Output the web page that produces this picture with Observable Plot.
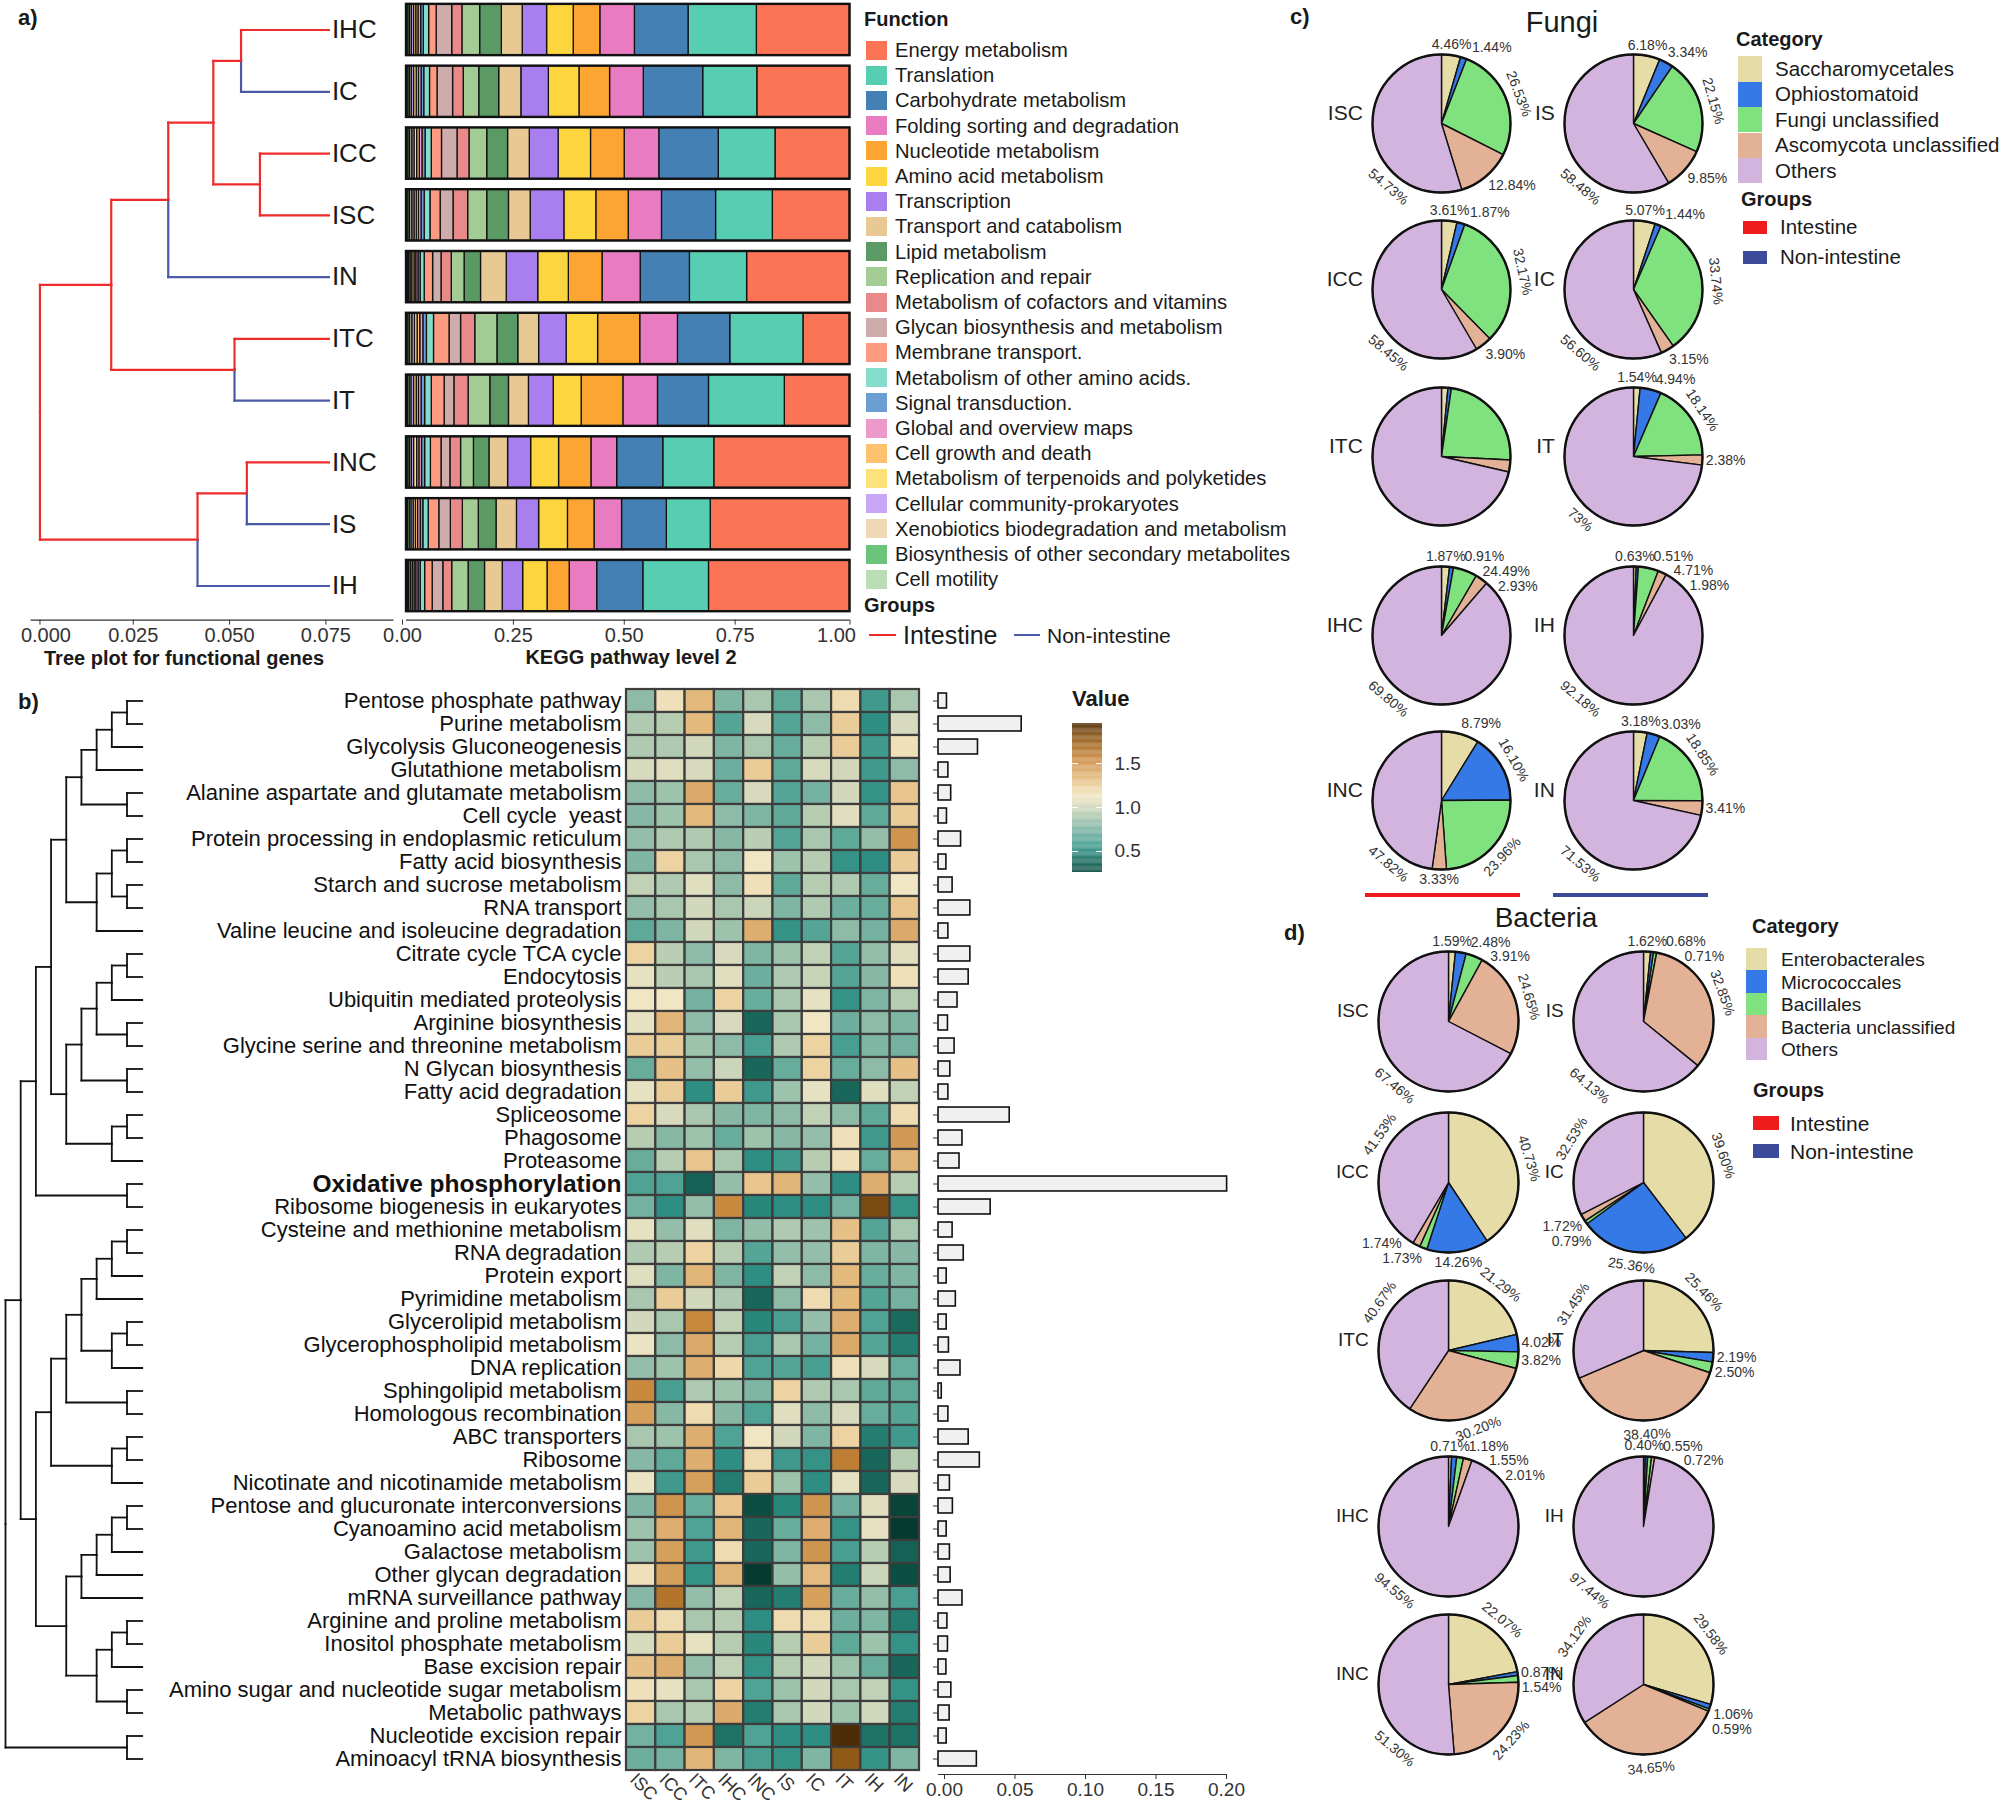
<!DOCTYPE html>
<html><head><meta charset="utf-8">
<script src="https://cdn.jsdelivr.net/npm/d3@7"></script>
<script src="https://cdn.jsdelivr.net/npm/@observablehq/plot@0.6"></script>
<style>
html,body{margin:0;padding:0;background:#fff;}
#root{position:relative;width:2008px;height:1808px;overflow:hidden;background:#fff;font-family:"Liberation Sans",Arial,Helvetica,sans-serif;color:#1a1a1a;}
</style></head><body><div id="root"></div>
<script>
// ================= DATA =================
// ---- panel a ----
const geneSamples = ["IHC","IC","ICC","ISC","IN","ITC","IT","INC","IS","IH"];
const intestineSamples = ["IHC","ICC","ISC","ITC","INC"];
const groupNames = ["Intestine","Non-intestine"];
const geneTree = [0, [0.0185, [0.0333, [0.045, [0.0522, "IHC", "IC"], [0.0571, "ICC", "ISC"]], "IN"], [0.0505, "ITC", "IT"]], [0.0409, [0.0537, "INC", "IS"], "IH"]];
const treeLeafHeight = 0.075;
const treeTicks = [0, 0.025, 0.05, 0.075];
const keggTicks = [0, 0.25, 0.5, 0.75, 1];
const keggFunctions = ["Energy metabolism","Translation","Carbohydrate metabolism","Folding sorting and degradation","Nucleotide metabolism","Amino acid metabolism","Transcription","Transport and catabolism","Lipid metabolism","Replication and repair","Metabolism of cofactors and vitamins","Glycan biosynthesis and metabolism","Membrane transport.","Metabolism of other amino acids.","Signal transduction.","Global and overview maps","Cell growth and death","Metabolism of terpenoids and polyketides","Cellular community-prokaryotes","Xenobiotics biodegradation and metabolism","Biosynthesis of other secondary metabolites","Cell motility"];
const keggColors = ["#FB7456","#57CDB2","#4580B5","#E97BC0","#FCA533","#FDD53F","#A97EEE","#E9C993","#5B9A65","#A3CB94","#E98A8A","#CFACAC","#FD9B82","#85DCCB","#6B9FD3","#ED9ACB","#FDC170","#FDE17A","#C6A6F5","#EFD9B5","#6CC47A","#BBDDB6"];
const keggIHC = [.210,.154,.121,.078,.060,.060,.055,.047,.049,.040,.023,.035,.017,.012,.006,.006,.005,.005,.005,.004,.004,.004];
const keggIC  = [.209,.122,.134,.076,.069,.069,.062,.050,.045,.035,.024,.035,.017,.013,.006,.006,.005,.006,.005,.004,.004,.004];
const keggICC = [.168,.128,.134,.078,.076,.073,.065,.049,.047,.040,.027,.035,.023,.014,.007,.006,.006,.006,.005,.005,.004,.004];
const keggISC = [.174,.128,.122,.075,.073,.072,.076,.049,.049,.043,.033,.029,.023,.013,.007,.006,.005,.005,.005,.005,.004,.004];
const keggIN  = [.232,.129,.111,.086,.076,.069,.071,.058,.037,.029,.023,.019,.019,.009,.005,.005,.004,.005,.004,.003,.003,.003];
const keggITC = [.105,.165,.118,.085,.095,.071,.062,.047,.047,.050,.032,.026,.035,.016,.008,.007,.006,.006,.006,.005,.004,.004];
const keggIT  = [.147,.171,.115,.078,.094,.063,.056,.045,.042,.049,.032,.022,.029,.015,.008,.006,.005,.006,.006,.004,.004,.003];
const keggINC = [.306,.115,.104,.058,.073,.063,.052,.042,.035,.029,.024,.020,.024,.013,.007,.006,.005,.007,.005,.004,.004,.004];
const keggIS  = [.314,.099,.101,.062,.060,.065,.050,.046,.040,.036,.027,.026,.024,.012,.006,.006,.005,.005,.005,.004,.004,.003];
const keggIH  = [.318,.148,.104,.062,.050,.055,.046,.040,.037,.037,.020,.024,.017,.010,.005,.005,.004,.004,.004,.004,.003,.003];

// ---- panel b ----
const heatSamples = ["ISC","ICC","ITC","IHC","INC","IS","IC","IT","IH","IN"];
const pathways = ["Pentose phosphate pathway","Purine metabolism","Glycolysis Gluconeogenesis","Glutathione metabolism","Alanine aspartate and glutamate metabolism","Cell cycle  yeast","Protein processing in endoplasmic reticulum","Fatty acid biosynthesis","Starch and sucrose metabolism","RNA transport","Valine leucine and isoleucine degradation","Citrate cycle TCA cycle","Endocytosis","Ubiquitin mediated proteolysis","Arginine biosynthesis","Glycine serine and threonine metabolism","N Glycan biosynthesis","Fatty acid degradation","Spliceosome","Phagosome","Proteasome","Oxidative phosphorylation","Ribosome biogenesis in eukaryotes","Cysteine and methionine metabolism","RNA degradation","Protein export","Pyrimidine metabolism","Glycerolipid metabolism","Glycerophospholipid metabolism","DNA replication","Sphingolipid metabolism","Homologous recombination","ABC transporters","Ribosome","Nicotinate and nicotinamide metabolism","Pentose and glucuronate interconversions","Cyanoamino acid metabolism","Galactose metabolism","Other glycan degradation","mRNA surveillance pathway","Arginine and proline metabolism","Inositol phosphate metabolism","Base excision repair","Amino sugar and nucleotide sugar metabolism","Metabolic pathways","Nucleotide excision repair","Aminoacyl tRNA biosynthesis"];
const boldPathway = "Oxidative phosphorylation";
const hmISC = [.80,.90,.90,1.02,.80,.78,.82,.75,.95,.82, .65,1.22,1.08,1.12,1.08,1.25,.68,1.08,1.22,.92, .68,.60,.72,1.08,.90,1.05,.88,1.00,1.10,.82, 1.55,1.45,.88,.78,1.10,.75,.85,.85,1.15,.78, 1.25,1.02,1.30,1.15,1.22,.72,.70];
const hmICC = [1.15,.92,.90,1.05,.85,.85,.90,1.22,.90,.88, .75,.93,.93,1.12,1.35,1.25,1.30,1.25,1.02,.78, .92,.60,.50,.82,.92,.75,1.25,.88,.80,.85, .58,.78,.85,.65,.55,1.50,1.38,1.45,1.45,1.65, 1.18,1.25,1.38,1.08,.88,.60,.72];
const hmITC = [1.33,1.33,1.00,1.02,1.40,1.33,.90,.88,1.05,1.00, 1.00,.80,.88,.72,.80,.85,.82,.50,.88,.85, 1.28,.35,.82,1.05,1.22,1.35,1.00,1.55,1.40,1.38, .90,1.18,1.38,1.38,1.45,.68,.60,.55,.52,.82, .88,1.08,.82,.88,.92,1.48,1.35];
const hmIHC = [.75,.62,.75,.70,.68,.80,.78,.80,.80,.88, .85,1.02,1.05,1.22,1.02,.80,.98,1.25,.78,.68, .88,.82,1.55,.75,.92,.75,.90,.95,.92,1.20, .85,.78,.60,.50,.45,1.28,1.35,1.18,1.35,.95, .92,.92,.95,1.22,1.40,.42,.75];
const hmINC = [.88,1.02,.88,1.25,1.02,.75,.93,1.12,1.15,.98, 1.38,.75,.70,.68,.38,.58,.38,.55,.75,.85, .50,1.28,.48,.82,.62,.50,.38,.48,.58,.60, .75,.60,1.12,1.18,1.25,.25,.38,.38,.15,.38, .50,.48,.52,.60,.45,.60,.58];
const hmIS  = [.65,.62,.68,.65,.62,.65,.62,.85,.65,.75, .52,.85,.90,.88,.88,.90,.68,.85,.80,.78, .55,1.35,.50,.90,.82,.95,.80,.58,.88,.62, 1.22,1.05,1.00,.55,.85,.48,.68,.75,.82,.45, 1.18,.92,.92,.85,.88,.50,.52];
const hmIC  = [.88,.80,.92,1.02,.72,.92,.88,.92,.92,.90, .62,.95,.97,1.08,1.12,1.22,1.22,1.08,.95,.82, .92,.82,.50,.85,.82,.80,1.18,.82,.72,.58, .90,.80,.75,.52,.50,1.50,1.38,1.50,1.32,1.45, 1.18,1.25,1.00,1.00,1.00,.50,.75];
const hmIT  = [1.18,1.25,1.25,1.00,1.00,1.05,.65,.52,.90,.70, .80,.62,.62,.52,.70,.58,.68,.38,.80,1.15, 1.15,.50,.72,1.30,1.25,1.33,1.33,1.38,1.40,1.15, .88,1.02,1.22,1.60,1.08,.70,.52,.58,.45,.68, .70,.65,.85,.88,.85,1.95,1.78];
const hmIH  = [.55,.50,.55,.55,.52,.65,.82,.50,.68,.68, .72,.82,.78,.75,.80,.75,.80,1.05,.65,.55, .68,1.38,1.85,.62,.75,.68,.62,.60,.62,1.02, .65,.68,.45,.38,.38,1.05,1.08,.92,.98,.82, .75,.85,.68,.95,1.00,.42,.52];
const hmIN  = [.88,1.02,1.15,.80,1.28,1.25,1.50,1.25,1.12,1.28, 1.40,1.05,1.15,.92,.75,.72,1.30,.95,1.18,1.48, 1.35,.92,.52,.88,.78,.75,.72,.40,.45,.68, .65,.62,.55,.92,1.02,.20,.15,.35,.25,.58, .45,.52,.38,.52,.45,.42,.75];
const pathwayShare = [0.006,0.059,0.028,0.007,0.009,0.006,0.016,0.0056,0.010,0.0226, 0.007,0.0226,0.0214,0.0135,0.0067,0.0114,0.0084,0.007,0.0505,0.017, 0.0149,0.2047,0.037,0.010,0.0179,0.0058,0.0123,0.0058,0.0074,0.0156, 0.0023,0.007,0.0214,0.0293,0.0081,0.0102,0.0058,0.0081,0.0086,0.017, 0.0063,0.0067,0.0056,0.0091,0.0079,0.0058,0.0272];
const shareTicks = [0, 0.05, 0.10, 0.15, 0.20];
const valueTicks = [0.5, 1.0, 1.5];
// row dendrogram: [height, child, child], leaves are row indices
const pathTree = [9,
  [8,
    [7,
      [6,
        [5, [4, [3, [2, [1, 0, 1], 2], 3], [1, 4, 5]], [3, [2, [1, 6, 7], [1, 8, 9]], 10]],
        [5, [4, [3, [2, [1, 11, 12], 13], [1, 14, 15]], [1, 16, 17]], [2, [1, 18, 19], 20]]],
      [1, 21, 22]],
    [7,
      [6, [5, [4, [3, [2, [1, 23, 24], 25], 26], [2, [1, 27, 28], 29]], [1, 30, 31]], [2, [1, 32, 33], 34]],
      [5, [4, [3, [2, [1, 35, 36], 37], 38], 39], [3, [2, [1, 40, 41], 42], [1, 43, 44]]]]],
  [1, 45, 46]];
const heatStops = [0.15, 0.4, 0.5, 0.6, 0.7, 0.8, 0.9, 1.0, 1.12, 1.22, 1.33, 1.42, 1.55, 1.7, 1.85, 1.96];
const heatStopColors = ["#053a2f","#1a6b5e","#2e8e84","#4fa394","#6eae9e","#8dbba8","#afcab0","#d2d8bb","#f0e6c4","#edd3a2","#e3b97c","#d9a665","#c98a40","#a86a20","#7a4a10","#4a2a05"];

// ---- panel c: fungi ----
const fungiCategories = ["Saccharomycetales","Ophiostomatoid","Fungi unclassified","Ascomycota unclassified","Others"];
const fungiISC = [4.46, 1.44, 26.53, 12.84, 54.73];
const fungiIS  = [6.18, 3.34, 22.15, 9.85, 58.48];
const fungiICC = [3.61, 1.87, 32.17, 3.90, 58.45];
const fungiIC  = [5.07, 1.44, 33.74, 3.15, 56.60];
const fungiITC = [1.5, 0.8, 23.5, 2.8, 71.4];
const fungiIT  = [1.54, 4.94, 18.14, 2.38, 73.00];
const fungiIHC = [1.87, 0.91, 5.6, 2.93, 88.69];
const fungiIH  = [0.63, 0.51, 4.71, 1.98, 92.18];
const fungiINC = [8.79, 16.10, 23.96, 3.33, 47.82];
const fungiIN  = [3.18, 3.03, 18.85, 3.41, 71.53];
const fungiISCText = ["4.46%","1.44%","26.53%","12.84%","54.73%"];
const fungiISText  = ["6.18%","3.34%","22.15%","9.85%","58.48%"];
const fungiICCText = ["3.61%","1.87%","32.17%","3.90%","58.45%"];
const fungiICText  = ["5.07%","1.44%","33.74%","3.15%","56.60%"];
const fungiITCText = ["","","","",""];
const fungiITText  = ["1.54%","4.94%","18.14%","2.38%","73%"];
const fungiIHCText = ["1.87%","0.91%","24.49%","2.93%","69.80%"];
const fungiIHText  = ["0.63%","0.51%","4.71%","1.98%","92.18%"];
const fungiINCText = ["8.79%","16.10%","23.96%","3.33%","47.82%"];
const fungiINText  = ["3.18%","3.03%","18.85%","3.41%","71.53%"];

// ---- panel d: bacteria ----
const bactCategories = ["Enterobacterales","Micrococcales","Bacillales","Bacteria unclassified","Others"];
const bactISC = [1.59, 2.48, 3.91, 24.65, 67.46];
const bactIS  = [1.62, 0.68, 0.71, 32.85, 64.13];
const bactICC = [40.73, 14.26, 1.73, 1.74, 41.53];
const bactIC  = [39.60, 25.36, 0.79, 1.72, 32.53];
const bactITC = [21.29, 4.02, 3.82, 30.20, 40.67];
const bactIT  = [25.46, 2.19, 2.50, 38.40, 31.45];
const bactIHC = [0.71, 1.18, 1.55, 2.01, 94.55];
const bactIH  = [0.40, 0.55, 0.89, 0.72, 97.44];
const bactINC = [22.07, 0.87, 1.54, 24.23, 51.30];
const bactIN  = [29.58, 1.06, 0.59, 34.65, 34.12];
const bactISCText = ["1.59%","2.48%","3.91%","24.65%","67.46%"];
const bactISText  = ["1.62%","0.68%","0.71%","32.85%","64.13%"];
const bactICCText = ["40.73%","14.26%","1.73%","1.74%","41.53%"];
const bactICText  = ["39.60%","25.36%","0.79%","1.72%","32.53%"];
const bactITCText = ["21.29%","4.02%","3.82%","30.20%","40.67%"];
const bactITText  = ["25.46%","2.19%","2.50%","38.40%","31.45%"];
const bactIHCText = ["0.71%","1.18%","1.55%","2.01%","94.55%"];
const bactIHText  = ["0.40%","0.55%","","0.72%","97.44%"];
const bactINCText = ["22.07%","0.87%","1.54%","24.23%","51.30%"];
const bactINText  = ["29.58%","1.06%","0.59%","34.65%","34.12%"];
const pieColors = ["#E6DCA8","#3479E6","#80E27F","#E3B195","#D3B4DF"];

// ================= STYLE / HELPERS =================
const RED = "#EE2B2B", BLUE = "#4A59A8";
const LEG_RED = "#EE1C1C", LEG_BLUE = "#3B4B9A";
const FONT = "'Liberation Sans', Arial, Helvetica, sans-serif";
const plotStyle = {background: "transparent", overflow: "visible", fontFamily: FONT, color: "#1a1a1a", maxWidth: "none"};
const root = document.getElementById("root");
function place(el, left, top) {
  el.style.position = "absolute"; el.style.left = left + "px"; el.style.top = top + "px";
  root.appendChild(el); return el;
}
function label(txt, x, y, o = {}) {
  const d = document.createElement("div");
  d.textContent = txt;
  const tx = o.anchor === "middle" ? "-50%" : o.anchor === "end" ? "-100%" : "0";
  Object.assign(d.style, {position: "absolute", left: x + "px", top: y + "px", fontSize: (o.size || 20) + "px",
    fontWeight: o.weight || "normal", color: o.color || "#1a1a1a", whiteSpace: "nowrap", lineHeight: "1",
    transform: `translate(${tx},-50%)`});
  root.appendChild(d);
}
function swatch(x, y, w, h, color) {
  const d = document.createElement("div");
  Object.assign(d.style, {position: "absolute", left: x + "px", top: y + "px", width: w + "px", height: h + "px", background: color});
  root.appendChild(d);
}
function treeSegments(tree, yOf, leafH, groupOf) {
  const segs = [];
  function walk(n) {
    if (!Array.isArray(n)) return {h: leafH, y: yOf(n), leaf: n};
    const [h, ...kids] = n;
    const ks = kids.map(walk);
    const y = d3.mean(ks, k => k.y);
    for (const k of ks) {
      const g = groupOf ? groupOf(k) : "all";
      segs.push({x1: h, y1: y, x2: h, y2: k.y, g});
      segs.push({x1: h, y1: k.y, x2: k.h, y2: k.y, g});
    }
    return {h, y, leaf: null};
  }
  walk(tree);
  return segs;
}

// ================= PANEL a =================
label("a)", 18, 18, {size: 22, weight: "bold"});
{
  const segs = treeSegments(geneTree, n => geneSamples.indexOf(n), treeLeafHeight,
    k => k.leaf == null ? "Intestine" : (intestineSamples.includes(k.leaf) ? "Intestine" : "Non-intestine"));
  const yAxisLine = 9 + (619.6 - 585.5) / ((585.5 - 29.5) / 9);
  const axisOpts = {tickFormat: ".3f", fontSize: 20, tickSize: 5, tickPadding: 3, label: null, color: "#333"};
  const p = Plot.plot({
    width: 400, height: 680, marginLeft: 30.6, marginRight: 6.5, marginTop: 0, marginBottom: 60.4,
    x: {domain: [-0.0023, 0.0919], range: [30.6, 393.5]},
    y: {domain: [0, 9], range: [29.5, 585.5], axis: null},
    color: {domain: groupNames, range: [RED, BLUE]},
    style: plotStyle,
    marks: [
      Plot.link(segs, {x1: "x1", y1: "y1", x2: "x2", y2: "y2", stroke: "g", strokeWidth: 2.2, strokeLinecap: "square"}),
      Plot.text(geneSamples, {x: () => treeLeafHeight, y: (d, i) => i, text: d => d, textAnchor: "start", dx: 3, fontSize: 26, fill: "#1a1a1a"}),
      Plot.ruleY([yAxisLine], {x1: -0.0023, x2: 0.0919, stroke: "#333", strokeWidth: 1.2}),
      Plot.axisX({...axisOpts, ticks: treeTicks.slice(0, 1), tickSize: 0, tickPadding: 8, dx: 6}),
      Plot.axisX({...axisOpts, ticks: treeTicks.slice(0, 1), tickFormat: () => ""}),
      Plot.axisX({...axisOpts, ticks: treeTicks.slice(1), dx: -3})
    ]
  });
  place(p, 0, 0);
}
{
  const keggBySample = {IHC: keggIHC, IC: keggIC, ICC: keggICC, ISC: keggISC, IN: keggIN, ITC: keggITC, IT: keggIT, INC: keggINC, IS: keggIS, IH: keggIH};
  const keggData = geneSamples.flatMap(s => keggFunctions.map((f, j) => ({sample: s, func: f, value: keggBySample[s][j]})));
  const axisOpts = {tickFormat: ".2f", fontSize: 20, tickSize: 5, tickPadding: 3, label: null, color: "#333"};
  const p = Plot.plot({
    width: 460, height: 680, marginLeft: 6, marginRight: 10.5, marginTop: 0, marginBottom: 60.4,
    x: {domain: [0, 1], range: [6, 449.5]},
    y: {domain: geneSamples, range: [-6.64, 621.7], padding: 0.17, round: false, axis: null},
    color: {domain: keggFunctions, range: keggColors},
    style: plotStyle,
    marks: [
      Plot.barX(keggData, Plot.stackX({x: "value", y: "sample", fill: "func", order: keggFunctions.slice().reverse(), offset: "normalize", stroke: "#111", strokeWidth: 1.3})),
      Plot.barX(geneSamples, {x1: 0, x2: 1, y: d => d, fill: "none", stroke: "#111", strokeWidth: 2.4}),
      Plot.ruleY(["IH"], {x1: 0, x2: 1, dy: 619.6 - 585.5, stroke: "#333", strokeWidth: 1.2}),
      Plot.axisX({...axisOpts, ticks: keggTicks.slice(0, -1), dx: -4}),
      Plot.axisX({...axisOpts, ticks: keggTicks.slice(-1), tickSize: 0, tickPadding: 8, textAnchor: "end", dx: 6}),
      Plot.axisX({...axisOpts, ticks: keggTicks.slice(-1), tickFormat: () => ""})
    ]
  });
  place(p, 400, 0);
}
label("Tree plot for functional genes", 184, 658, {size: 20, weight: "bold", anchor: "middle"});
label("KEGG pathway level 2", 631, 657, {size: 20, weight: "bold", anchor: "middle"});
label("Function", 864, 19, {size: 20, weight: "bold"});
keggFunctions.forEach((f, i) => {
  const y = 50 + 25.2 * i;
  swatch(866, y - 9.5, 21, 19, keggColors[i]);
  label(f, 895, y, {size: 20.2});
});
label("Groups", 864, 605, {size: 20, weight: "bold"});
swatch(869, 633.5, 27, 2.6, RED);
label("Intestine", 903, 635, {size: 25});
swatch(1014, 633.5, 26, 2.6, BLUE);
label("Non-intestine", 1047, 635, {size: 21});

// ================= PANEL b =================
label("b)", 18, 702, {size: 22, weight: "bold"});
{
  const segs = treeSegments(pathTree, i => i, 0, null);
  const p = Plot.plot({
    width: 150, height: 1128, margin: 0,
    x: {domain: [0, 9], range: [141.7, 5], axis: null},
    y: {domain: [0, 46], range: [20.5, 1078.5], axis: null},
    style: plotStyle,
    marks: [Plot.link(segs, {x1: "x1", y1: "y1", x2: "x2", y2: "y2", stroke: "#111", strokeWidth: 1.8, strokeLinecap: "square"})]
  });
  place(p, 0, 680);
}
const heatColor = {type: "linear", domain: heatStops, range: heatStopColors, clamp: true, interpolate: "rgb"};
{
  const heatCols = [hmISC, hmICC, hmITC, hmIHC, hmINC, hmIS, hmIC, hmIT, hmIH, hmIN];
  const heatData = pathways.flatMap((pth, r) => heatSamples.map((s, c) => ({path: pth, sample: s, value: heatCols[c][r]})));
  const p = Plot.plot({
    width: 800, height: 1128, marginLeft: 486, marginRight: 21, marginTop: 9, marginBottom: 38,
    x: {domain: heatSamples, range: [486, 779], padding: 0, round: false},
    y: {domain: pathways, range: [9, 1090], padding: 0, round: false, axis: null},
    color: heatColor,
    style: plotStyle,
    marks: [
      Plot.cell(heatData, {x: "sample", y: "path", fill: "value", stroke: "#3d3d3d", strokeWidth: 2.2, inset: 0}),
      Plot.text(pathways.filter(d => d !== boldPathway), {y: d => d, text: d => d, frameAnchor: "left", textAnchor: "end", dx: -5, fontSize: 22, fill: "#111"}),
      Plot.text([boldPathway], {y: d => d, text: d => d, frameAnchor: "left", textAnchor: "end", dx: -5, fontSize: 24.5, fontWeight: "bold", fill: "#111"}),
      Plot.axisX({anchor: "bottom", tickRotate: 45, tickSize: 0, tickPadding: 6, dx: -8, fontSize: 18, label: null, color: "#333"})
    ]
  });
  place(p, 140, 680);
}
{
  const barData = pathways.map((pth, i) => ({path: pth, value: pathwayShare[i]}));
  const p = Plot.plot({
    width: 320, height: 1128, marginLeft: 18, marginRight: 20, marginTop: 9, marginBottom: 34,
    x: {domain: [0, 0.2], range: [18, 300]},
    y: {domain: pathways, range: [9, 1090], paddingInner: 0.35, paddingOuter: 0.175, round: false},
    style: plotStyle,
    marks: [
      Plot.barX(barData, {x: "value", y: "path", fill: "#F0F0F0", stroke: "#111", strokeWidth: 1.6}),
      Plot.axisY({anchor: "left", tickSize: 5, tickFormat: () => "", label: null, color: "#333"}),
      Plot.ruleY([pathways[pathways.length - 1]], {x1: 0, x2: 0.205, dy: 1094 - 1078.5, stroke: "#333", strokeWidth: 1.2}),
      Plot.axisX({ticks: shareTicks, tickFormat: ".2f", fontSize: 19, tickSize: 5, tickPadding: 3, dx: 6, label: null, color: "#333"})
    ]
  });
  place(p, 920, 680);
}
label("Value", 1072, 699, {size: 22, weight: "bold"});
{
  const st = 0.01;
  const steps = d3.range(0.26, 1.955, st);
  const p = Plot.plot({
    width: 100, height: 170, marginLeft: 12, marginRight: 58, marginTop: 8, marginBottom: 13,
    x: {domain: [0, 1], range: [12, 42], axis: null},
    y: {domain: [0.26, 1.955], range: [157, 8]},
    color: heatColor,
    style: plotStyle,
    marks: [
      Plot.rect(steps, {x1: 0, x2: 1, y1: d => d, y2: d => Math.min(1.955, d + st * 1.05), fill: d => d}),
      Plot.ruleY(valueTicks, {x1: 0, x2: 0.2, stroke: "white", strokeWidth: 1}),
      Plot.ruleY(valueTicks, {x1: 0.8, x2: 1, stroke: "white", strokeWidth: 1}),
      Plot.axisY({anchor: "right", ticks: valueTicks, tickFormat: ".1f", tickSize: 0, tickPadding: 12, fontSize: 19, label: null, color: "#333"})
    ]
  });
  place(p, 1060, 715);
}

// ================= PIES =================
function pieLabels(slices, texts, u, fs) {
  const out = [], boxes = [];
  const lw = t => t.length * 0.52 * fs / u, lh = fs / u;
  const last = slices.length - 1;
  // large slices: label along the rim, rotated with the tangent
  for (const s of slices) {
    const t = texts[s.i];
    if (!t || s.frac < 0.15) continue;
    let m = (s.a0 + s.a1) / 2;
    if (s.i === last && m >= 180 && m < 280 && s.a0 <= 220 && s.a1 >= 220) m = 220;  // keep clear of the sample name
    else if (m >= 280 && m < 300) m = 305;
    const rad = m * Math.PI / 180;
    let rot = m;
    if (rot > 90 && rot < 270) rot -= 180; else if (rot >= 270) rot -= 360;
    const x = 1.2 * Math.sin(rad), y = 1.2 * Math.cos(rad);
    out.push({x, y, t, rot, anchor: "middle"});
    const r = rot * Math.PI / 180, L = lw(t);
    const hw = 0.4 * (L * Math.abs(Math.cos(r)) + lh * Math.abs(Math.sin(r)));
    const hh = 0.4 * (L * Math.abs(Math.sin(r)) + lh * Math.abs(Math.cos(r)));
    boxes.push({x0: x - hw, x1: x + hw, y0: y - hh, y1: y + hh});
  }
  // small slices: horizontal labels, nudged to avoid overlaps
  for (const s of slices) {
    const t = texts[s.i];
    if (!t || s.frac >= 0.15) continue;
    let m = (s.a0 + s.a1) / 2;
    if (m > 235 && m < 295) m = m < 265 ? 225 : 305;
    const rad = m * Math.PI / 180, sx = Math.sin(rad), cy = Math.cos(rad);
    let anchor = sx > 0.25 ? "start" : sx < -0.25 ? "end" : "middle";
    const w = lw(t), h = lh;
    const off = cy > 0.3 ? h / 2 : cy < -0.3 ? -h / 2 : 0;
    let px = 1.05 * sx, py = 1.05 * cy + off;
    const mk = () => { const x0 = anchor === "start" ? px : anchor === "end" ? px - w : px - w / 2; return {x0, x1: x0 + w, y0: py - h / 2, y1: py + h / 2}; };
    const clearCircle = () => {
      const b = mk();
      const ynear = (b.y0 <= 0 && b.y1 >= 0) ? 0 : Math.min(Math.abs(b.y0), Math.abs(b.y1));
      const xnear = (b.x0 <= 0 && b.x1 >= 0) ? 0 : Math.min(Math.abs(b.x0), Math.abs(b.x1));
      if (xnear * xnear + ynear * ynear >= 1) return;
      if (anchor === "start") px += Math.sqrt(1 - ynear * ynear) + 0.03 - b.x0;
      else if (anchor === "end") px += -Math.sqrt(1 - ynear * ynear) - 0.03 - b.x1;
      else if (py > 0) py += Math.sqrt(1 - xnear * xnear) + 0.03 - b.y0;
      else py += -Math.sqrt(1 - xnear * xnear) - 0.03 - b.y1;
    };
    clearCircle();
    for (let k = 0; k < 20; k++) {
      const b = mk();
      const hit = boxes.find(o => o.x0 < b.x1 && b.x0 < o.x1 && o.y0 < b.y1 && b.y0 < o.y1);
      if (!hit) break;
      if (cy > 0.8) {
        const dx = hit.x1 - b.x0 + 0.03;
        if (b.x0 + dx < 0.7) px += dx;
        else { if (anchor !== "start") { px = b.x0; anchor = "start"; } py -= (b.y1 - hit.y0) + 0.01; }
      } else if (cy < -0.8) {
        const dx = b.x1 - hit.x0 + 0.03;
        if (b.x1 - dx > -0.7) px -= dx;
        else { if (anchor !== "end") { px = b.x1; anchor = "end"; } py += (hit.y1 - b.y0) + 0.01; }
      } else if (sx >= 0) py -= (b.y1 - hit.y0) + 0.01;
      else py += (hit.y1 - b.y0) + 0.01;
      clearCircle();
    }
    boxes.push(mk());
    out.push({x: px, y: py, t, rot: 0, anchor});
  }
  return out;
}
function piePlot(name, values, texts, cats, u, nameSize) {
  const total = d3.sum(values);
  const slices = [], polys = [];
  let acc = 0;
  values.forEach((v, i) => {
    const a0 = acc / total * 360, a1 = (acc + v) / total * 360;
    acc += v;
    slices.push({i, a0, a1, frac: v / total});
    const n = Math.max(2, Math.ceil(a1 - a0));
    polys.push({k: i, cat: cats[i], x: 0, y: 0});
    for (let s = 0; s <= n; s++) {
      const a = (a0 + (a1 - a0) * s / n) * Math.PI / 180;
      polys.push({k: i, cat: cats[i], x: Math.sin(a), y: Math.cos(a)});
    }
  });
  const fs = 14;
  const labs = pieLabels(slices, texts, u, fs);
  const textMarks = ["start", "middle", "end"].map(a => Plot.text(labs.filter(d => d.anchor === a),
    {x: "x", y: "y", text: "t", rotate: "rot", textAnchor: a, lineAnchor: "middle", fontSize: fs, fill: "#333"}));
  return Plot.plot({
    width: 280, height: 220, margin: 0,
    x: {domain: [-168 / u, 112 / u], range: [0, 280], axis: null},
    y: {domain: [-110 / u, 110 / u], range: [220, 0], axis: null},
    color: {domain: cats, range: pieColors},
    style: plotStyle,
    marks: [
      Plot.line(polys, {x: "x", y: "y", z: "k", fill: "cat", stroke: "#111", strokeWidth: 1.4, curve: "linear-closed", strokeLinejoin: "round"}),
      Plot.dot([0], {x: () => 0, y: () => 0, r: u, fill: "none", stroke: "#111", strokeWidth: 2.4}),
      ...textMarks,
      Plot.text([name], {x: () => -1.14, y: () => 0.15, text: d => d, textAnchor: "end", fontSize: nameSize, fill: "#222"})
    ]
  });
}
// ---- panel c ----
label("c)", 1290, 17, {size: 22, weight: "bold"});
label("Fungi", 1562, 22, {size: 29, anchor: "middle"});
{
  const pies = [["ISC", fungiISC, fungiISCText], ["IS", fungiIS, fungiISText],
                ["ICC", fungiICC, fungiICCText], ["IC", fungiIC, fungiICText],
                ["ITC", fungiITC, fungiITCText], ["IT", fungiIT, fungiITText],
                ["IHC", fungiIHC, fungiIHCText], ["IH", fungiIH, fungiIHText],
                ["INC", fungiINC, fungiINCText], ["IN", fungiIN, fungiINText]];
  const cols = [1441, 1632.5], rows = [123, 289, 456, 634.5, 800];
  pies.forEach(([nm, v, t], k) => {
    const p = piePlot(nm, v, t, fungiCategories, 69, 21);
    place(p, cols[k % 2] - 168, rows[Math.floor(k / 2)] - 110);
  });
}
swatch(1365, 893, 155, 4, LEG_RED);
swatch(1553, 893, 155, 4, LEG_BLUE);
label("Category", 1736, 39, {size: 20, weight: "bold"});
fungiCategories.forEach((c, i) => {
  const y = 69 + 25.4 * i;
  swatch(1738, y - 12.7, 24, 25.4, pieColors[i]);
  label(c, 1775, y, {size: 20.5});
});
label("Groups", 1741, 199, {size: 20, weight: "bold"});
swatch(1743, 220.5, 24, 13, LEG_RED); label("Intestine", 1780, 227, {size: 20.5});
swatch(1743, 250.5, 24, 13, LEG_BLUE); label("Non-intestine", 1780, 257, {size: 20.5});

// ---- panel d ----
label("d)", 1284, 933, {size: 22, weight: "bold"});
label("Bacteria", 1546, 918, {size: 28, anchor: "middle"});
{
  const pies = [["ISC", bactISC, bactISCText], ["IS", bactIS, bactISText],
                ["ICC", bactICC, bactICCText], ["IC", bactIC, bactICText],
                ["ITC", bactITC, bactITCText], ["IT", bactIT, bactITText],
                ["IHC", bactIHC, bactIHCText], ["IH", bactIH, bactIHText],
                ["INC", bactINC, bactINCText], ["IN", bactIN, bactINText]];
  const cols = [1448, 1643], rows = [1021, 1182, 1350, 1526, 1684];
  pies.forEach(([nm, v, t], k) => {
    const p = piePlot(nm, v, t, bactCategories, 70, 19);
    place(p, cols[k % 2] - 168, rows[Math.floor(k / 2)] - 110);
  });
}
label("Category", 1752, 926, {size: 20, weight: "bold"});
bactCategories.forEach((c, i) => {
  const y = 959 + 22.5 * i;
  swatch(1746, y - 11.25, 21, 22.5, pieColors[i]);
  label(c, 1781, y, {size: 19});
});
label("Groups", 1753, 1089.5, {size: 20, weight: "bold"});
swatch(1753, 1116, 26, 14, LEG_RED); label("Intestine", 1790, 1123, {size: 21});
swatch(1753, 1144, 26, 14, LEG_BLUE); label("Non-intestine", 1790, 1151, {size: 21});
</script></body></html>
